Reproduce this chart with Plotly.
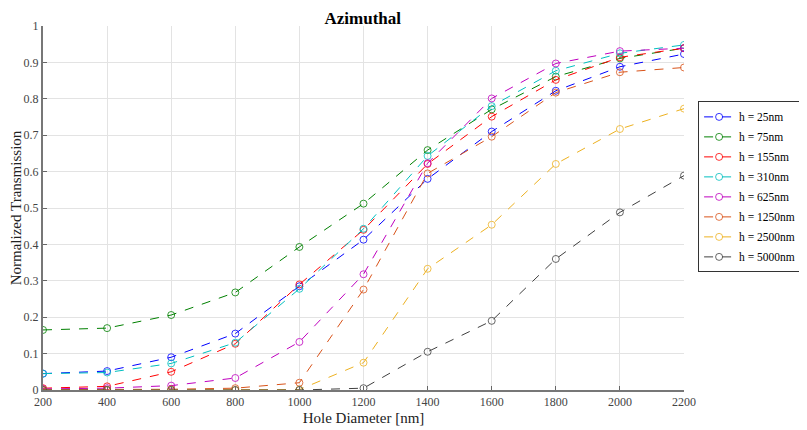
import plotly.graph_objects as go

# Hole diameters (nm)
diameters = [200, 400, 600, 800, 1000, 1200, 1400, 1600, 1800, 2000, 2200]

# Normalized transmission for each height
h25 = [0.045, 0.052, 0.090, 0.155, 0.285, 0.413, 0.580, 0.710, 0.822, 0.888, 0.923]
h75 = [0.165, 0.170, 0.206, 0.268, 0.393, 0.512, 0.659, 0.771, 0.861, 0.911, 0.939]
h155 = [0.005, 0.010, 0.050, 0.127, 0.290, 0.440, 0.621, 0.751, 0.852, 0.914, 0.939]
h310 = [0.045, 0.048, 0.073, 0.130, 0.278, 0.443, 0.643, 0.780, 0.877, 0.925, 0.948]
h625 = [0.003, 0.005, 0.012, 0.033, 0.132, 0.318, 0.623, 0.801, 0.897, 0.931, 0.939]
h1250 = [0.001, 0.001, 0.002, 0.005, 0.020, 0.276, 0.595, 0.696, 0.817, 0.873, 0.886]
h2500 = [0.0, 0.0, 0.0, 0.0, 0.001, 0.075, 0.333, 0.454, 0.621, 0.717, 0.773]
h5000 = [0.0, 0.0, 0.0, 0.0, 0.0, 0.005, 0.105, 0.190, 0.360, 0.488, 0.589]

labels = ['h = 25nm', 'h = 75nm', 'h = 155nm', 'h = 310nm',
          'h = 625nm', 'h = 1250nm', 'h = 2500nm', 'h = 5000nm']
series = [h25, h75, h155, h310, h625, h1250, h2500, h5000]
colors = ['#0000ff', '#008000', '#ff0000', '#00bfbf',
          '#bf00bf', '#d95319', '#edb120', '#404040']

fig = go.Figure()
for name, vals, col in zip(labels, series, colors):
    fig.add_trace(go.Scatter(
        x=diameters, y=vals, mode='lines+markers', name=name, legendgroup=name,
        line=dict(color=col, width=1, dash='dash'),
        marker=dict(symbol='circle-open', size=7, color=col, line=dict(width=0.8)),
    ))

# the page body has an 8px margin, so the figure is 8px smaller than the window
font = 'Liberation Serif, Times New Roman, serif'
fig.update_layout(
    width=799, height=422,
    margin=dict(l=35, r=123, t=18, b=40, autoexpand=False),
    paper_bgcolor='white', plot_bgcolor='white',
    font=dict(family=font, size=12, color='#333'),
    title=dict(text='<b>Azimuthal</b>', x=0.444, xanchor='center', y=0.99, yanchor='top',
               font=dict(family=font, size=17, color='black'), automargin=False),
    showlegend=True,
    legend=dict(x=1.022, xanchor='left', y=0.558, yanchor='middle',
                bordercolor='#333', borderwidth=1, bgcolor='white',
                font=dict(family=font, size=11.5, color='black'),
                tracegroupgap=1, itemwidth=30),
)
fig.update_xaxes(
    range=[200, 2200], tickvals=diameters, ticks='inside', ticklen=4,
    tickcolor='#666', showline=True, linecolor='#777', linewidth=2,
    showgrid=True, gridcolor='#e3e3e3', gridwidth=1, zeroline=False,
    automargin=False,
    title=dict(text='Hole Diameter [nm]', font=dict(size=15, color='#222'), standoff=4),
    tickfont=dict(size=12, color='#444'),
)
fig.update_yaxes(
    range=[0, 1], dtick=0.1, ticks='inside', ticklen=4,
    tickcolor='#666', showline=True, linecolor='#777', linewidth=2,
    showgrid=True, gridcolor='#e3e3e3', gridwidth=1, zeroline=False,
    automargin=False,
    title=dict(text='Normalized Transmission', font=dict(size=15, color='#222'), standoff=0),
    tickfont=dict(size=12, color='#444'),
)

fig.write_html("out.html")
